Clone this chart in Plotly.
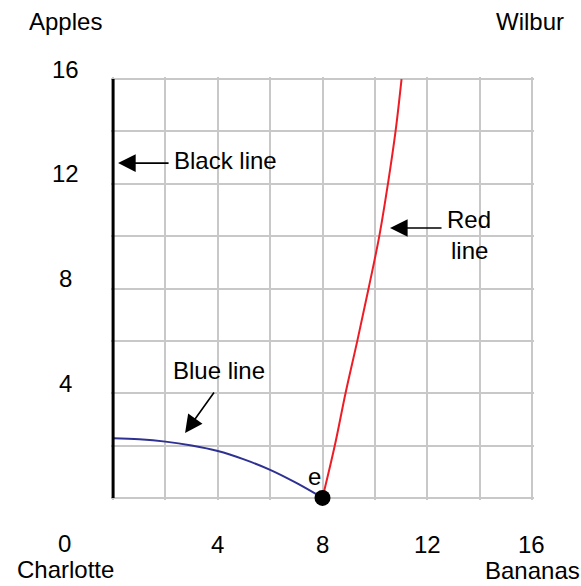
import plotly.graph_objects as go

# ---- data ----
blue_x = [0, 1, 2, 3, 4, 5, 6, 7, 8]
blue_y = [2.28, 2.24, 2.15, 2.0, 1.79, 1.47, 1.07, 0.57, 0]

red_y = [0, 2, 4, 6, 8, 10, 12, 14, 16]
red_x = [8, 8.47, 8.88, 9.33, 9.76, 10.17, 10.5, 10.79, 11.02]

black_x = [0, 0]
black_y = [0, 16]

point_x = [8]
point_y = [0]
point_label = "e"

x_tick_vals = [4, 8, 12, 16]
x_tick_text = ["4", "8", "12", "16"]
y_tick_vals = [16, 12, 8, 4]
y_tick_text = ["16", "12", "8", "4"]
grid_vals = [0, 2, 4, 6, 8, 10, 12, 14, 16]

FONT = "Liberation Sans, Arial, sans-serif"
FS = 24

fig = go.Figure()
fig.add_trace(go.Scatter(x=blue_x, y=blue_y, mode="lines", line=dict(color="#2e3192", width=2, shape="spline"), hoverinfo="skip"))
fig.add_trace(go.Scatter(x=red_x, y=red_y, mode="lines", line=dict(color="#ee1c25", width=2, shape="spline"), hoverinfo="skip"))
fig.add_trace(go.Scatter(x=black_x, y=black_y, mode="lines", line=dict(color="black", width=3), hoverinfo="skip"))
fig.add_trace(go.Scatter(x=point_x, y=point_y, mode="markers", marker=dict(color="black", size=16), cliponaxis=False, hoverinfo="skip"))

ann = []
def txt(text, x, y, xref="x", yref="y", xshift=0, yshift=0, xanchor="center", yanchor="middle"):
    ann.append(dict(text=text, x=x, y=y, xref=xref, yref=yref, showarrow=False,
                    xshift=xshift, yshift=yshift, xanchor=xanchor, yanchor=yanchor,
                    font=dict(family=FONT, size=FS, color="black")))

def arrow(x, y, ax, ay):
    ann.append(dict(text="", x=x, y=y, xref="x", yref="y", ax=ax, ay=ay, showarrow=True,
                    arrowhead=2, arrowsize=2.2, arrowwidth=1.6, arrowcolor="black", standoff=0))

# tick labels
for v, t in zip(x_tick_vals, x_tick_text):
    txt(t, v, 0, yshift=-47)
txt("0", 0, 0, xshift=-49, yshift=-46)
for v, t in zip(y_tick_vals, y_tick_text):
    txt(t, 0, v, xshift=-48, yshift=10)

# corner titles
txt("Apples", 0, 16, xshift=-48, yshift=58)
txt("Wilbur", 16, 16, xshift=-2, yshift=58)
txt("Charlotte", 0, 0, xshift=-48, yshift=-72)
txt("Bananas", 16, 0, xshift=1, yshift=-73)

# series labels
txt("Black line", 4.3, 12.9, xanchor="center")
txt("Red", 13.6, 10.65)
txt("line", 13.6, 9.45)
txt("Blue line", 4.05, 4.85)
txt(point_label, 7.7, 0.8)

# arrows
arrow(0.19, 12.79, 52, 0)
arrow(10.58, 10.31, 53, 0)
arrow(2.75, 2.48, 30, -42)

fig.update_layout(
    width=581, height=586,
    margin=dict(l=111, r=47, t=77, b=86, autoexpand=False),
    paper_bgcolor="white", plot_bgcolor="white",
    showlegend=False,
    annotations=ann,
    font=dict(family=FONT, size=FS),
)
axis_common = dict(range=[-0.08, 16.08], tickvals=grid_vals, showticklabels=False,
                   showgrid=True, gridcolor="#c8c8c8", gridwidth=2, zeroline=False,
                   showline=False, ticks="", fixedrange=True)
fig.update_xaxes(**axis_common)
fig.update_yaxes(**axis_common)

fig.write_html("out.html", config={"displayModeBar": False},
               post_script="document.body.style.margin='0';document.body.style.overflow='hidden';")
